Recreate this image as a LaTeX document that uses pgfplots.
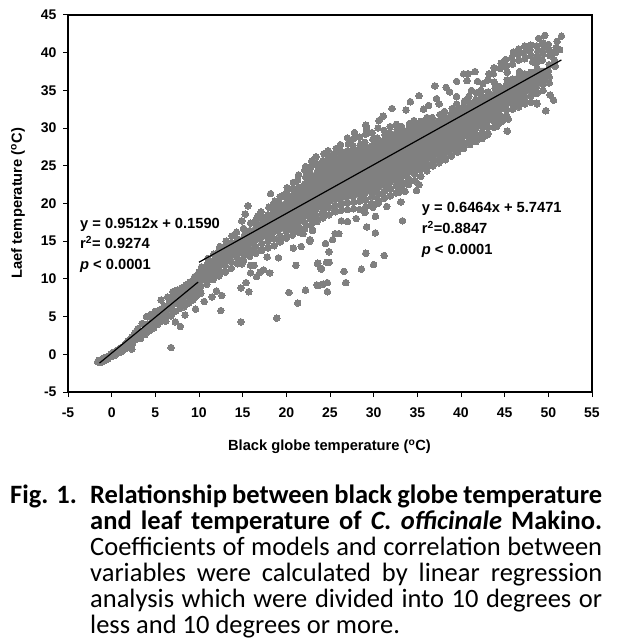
\documentclass[border=0pt]{standalone}
\usepackage{fontspec}
\setmainfont{Liberation Sans}
\newfontfamily\capfont{Carlito}
\usepackage{pgfplots}
\pgfplotsset{compat=1.18}
\definecolor{cloud}{RGB}{128,128,128}
\newcommand{\capline}[2]{\node[anchor=base west,inner sep=0pt] at (22pt,#1) {\makebox[512pt][s]{#2}};}
\begin{document}
\begin{tikzpicture}
\useasboundingbox (-68pt,-250pt) rectangle (553pt,392pt);
\begin{axis}[
    at={(0pt,0pt)},
    anchor=south west,
    scale only axis,
    width=524pt,
    height=377pt,
    xmin=-5, xmax=55,
    ymin=-5, ymax=45,
    xtick={-5,0,...,55},
    ytick={-5,0,...,45},
    tick align=outside,
    tick pos=left,
    major tick length=5pt,
    tick style={black,line width=1pt},
    axis line style={black,line width=1.1pt},
    /pgf/number format/assume math mode=true,
    tick label style={font=\bfseries\fontsize{14}{14}\selectfont},
    xticklabel style={yshift=-7pt},
    yticklabel style={xshift=-3pt},
    clip=false,
    xlabel={\textbf{Black globe temperature (\textsuperscript{o}C)}},
    ylabel={\textbf{Laef temperature (\textsuperscript{o}C)}},
    every axis x label/.style={at={(axis description cs:0.499,-0.155)},anchor=base,font=\fontsize{14.7}{14.7}\selectfont},
    every axis y label/.style={at={(axis description cs:-0.088,0.501)},anchor=base,rotate=90,font=\fontsize{14.7}{14.7}\selectfont},
]
% solid middle of the cloud, where the points run together
\addplot[fill=cloud,draw=none] coordinates {
(3,3)(5,5)(7,7.5)(9,9.5)(10,10.9)(12,13)(14,14.9)(16,16.7)(18,18.8)(20,20.6)(22,23)(24,25)(26,26.5)(28,27.5)(30,28)(32,29.5)(34,30)(36,30.8)(38,31.5)(40,32.8)(42,34)(43.5,34.8)(45,35.7)(47,37)(49,38)(50,38)
(50,37)(49,35.5)(47,34)(45,32.5)(43,30.5)(41,29)(39,27.2)(37,26)(35,24.5)(33,23)(31,22)(29,21)(27,20.5)(25,20)(23,18.5)(21,17)(19,16)(17,15)(15,13.5)(13,12)(11,10)(9,7.8)(7,6)(5,4.4)(3,2.5)
};
% dense cloud, read column by column
\addplot[only marks,mark=*,mark size=3.3pt,mark options={fill=cloud,draw=cloud,line width=0pt}] coordinates {
(-1.6,-1.0)(-1.5,-0.8)(-1.4,-1.1)(-1.2,-0.7)(-1.1,-1.0)(-0.9,-0.5)(-0.8,-0.8)(-0.5,-0.3)(-0.4,-0.6)(-0.1,0)(0,-0.3)
(0.3,0.3)(0.4,-0.1)(0.7,0.6)(0.8,0.2)(1.1,0.9)(1.2,0.4)(1.5,1.3)(1.6,0.8)(1.9,1.8)(2,1.1)(2.3,2.3)(2.4,1.5)(2.7,2.9)(2.8,2)
(3,3.4)(3.1,2.6)(3.3,2.1)(3.5,4.1)(3.6,3.1)(3.8,2.6)(4,5)(4.1,4)(4.3,3.1)(4.5,5.3)(4.6,4.4)(4.8,3.5)(5,5.7)(5.1,4.9)(5.3,4)
(5.5,5.9)(5.6,5.1)(5.7,4.4)(5.65,7.2)(6,6.4)(6.1,5.6)(6.2,4.8)(6.4,7.6)(6.6,6.8)(6.7,5.9)(6.8,5.1)(7,8.3)(7,7.5)(7.2,6.7)(7.3,5.7)
(7.5,8.5)(7.6,7.7)(7.7,6.9)(7.8,6.1)(8,8.8)(8,8)(8.1,7.2)(8.3,6.3)(8.5,9.2)(8.6,8.4)(8.7,7.6)(8.8,6.8)(9,9.6)(9.1,8.8)(9.2,8)(9.3,7.2)
(9.5,10.3)(9.6,9.5)(9.6,8.7)(9.7,7.7)(10,10.9)(10,9.9)(10.1,8.9)
(10.2,8.1)(10.2,9)(10.3,9.9)(10.2,10.8)(10.3,11.6)
(10.9,9.3)(10.9,10.1)(11,11)(10.9,11.8)(11,12.7)
(11.6,9.9)(11.6,10.7)(11.5,11.6)(11.6,12.4)(11.7,13.3)
(12.3,10.4)(12.3,11.2)(12.2,12.1)(12.3,12.9)(12.3,13.8)(12.4,14.3)
(13,10.9)(13,11.8)(13.1,12.6)(13,13.4)(13,14.3)(13.1,15)
(13.7,11.4)(13.7,12.3)(13.6,13.1)(13.7,14)(13.7,14.8)(13.8,15.7)
(14.4,12)(14.4,12.8)(14.5,13.6)(14.4,14.5)(14.4,15.3)(14.3,16.2)
(15.1,12.5)(15.1,13.3)(15,14.1)(15.1,15)(15.2,15.8)(15.1,16.7)
(15.8,13)(15.8,13.8)(15.7,14.7)(15.8,15.5)(15.8,16.4)(15.9,17.4)
(16.5,13.4)(16.5,14.2)(16.4,15.1)(16.5,16)(16.6,16.9)(16.5,17.8)(16.7,18.3)
(17.2,13.8)(17.2,14.7)(17.1,15.5)(17.2,16.4)(17.3,17.2)(17.2,18.1)(17.1,18.9)
(17.9,14.1)(17.9,15)(18,15.9)(17.9,16.8)(17.8,17.6)(17.9,18.5)(18,19.5)
(18.6,14.4)(18.6,15.3)(18.5,16.2)(18.6,17.1)(18.7,18)(18.6,18.9)(18.5,19.8)(18.7,20.3)
(19.3,14.9)(19.3,15.7)(19.2,16.6)(19.3,17.5)(19.4,18.3)(19.3,19.2)(19.2,20.1)(19.3,20.9)
(20,15.4)(20,16.3)(20.1,17.1)(20,18)(19.9,18.9)(20,19.7)(20.1,20.6)(20,21.4)(20.1,22.1)
(20.7,15.8)(20.7,16.7)(20.6,17.6)(20.7,18.4)(20.8,19.2)(20.7,20.1)(20.6,21)(20.7,21.9)(20.8,22.8)
(21.4,16.2)(21.4,17)(21.5,17.9)(21.4,18.8)(21.3,19.6)(21.4,20.5)(21.5,21.4)(21.4,22.2)(21.3,23.1)(21.4,23.8)
(22.1,16.6)(22.1,17.5)(22,18.3)(22.1,19.2)(22.2,20)(22.1,20.9)(22,21.8)(22.1,22.6)(22.2,23.5)(22.1,24.4)(22.2,24.9)
(22.8,17.1)(22.8,18)(22.9,18.8)(22.8,19.7)(22.7,20.5)(22.8,21.4)(22.9,22.2)(22.8,23.1)(22.7,24)(22.8,24.8)(22.9,25.6)
(23.5,17.6)(23.5,18.4)(23.4,19.3)(23.5,20.1)(23.6,21)(23.5,21.9)(23.4,22.7)(23.5,23.6)(23.6,24.4)(23.5,25.3)(23.4,26.2)
(24.2,18.1)(24.2,18.9)(24.3,19.8)(24.2,20.6)(24.1,21.5)(24.2,22.3)(24.3,23.2)(24.2,24)(24.1,24.9)(24.2,25.7)(24.3,26.6)
(24.9,18.5)(24.9,19.4)(24.8,20.2)(24.9,21.1)(25,21.9)(24.9,22.8)(24.8,23.7)(24.9,24.5)(25,25.4)(24.9,26.2)(24.8,27)
(25.6,18.9)(25.6,19.7)(25.7,20.6)(25.6,21.4)(25.5,22.3)(25.6,23.1)(25.7,24)(25.6,24.9)(25.5,25.7)(25.6,26.6)(25.7,27.3)
(26.3,19.1)(26.3,20)(26.2,20.9)(26.3,21.7)(26.4,22.6)(26.3,23.4)(26.2,24.3)(26.3,25.2)(26.4,26)(26.3,26.9)(26.2,27.8)
(27,19.2)(27,20.1)(27.1,21)(27,21.9)(26.9,22.7)(27,23.6)(27.1,24.4)(27,25.3)(26.9,26.1)(27,27)(27.1,27.9)(27,28.7)
(27.7,19.3)(27.7,20.2)(27.6,21)(27.7,21.9)(27.8,22.8)(27.7,23.6)(27.6,24.5)(27.7,25.3)(27.8,26.2)(27.7,27)(27.6,27.7)(27.7,28.6)(27.8,29.4)
(28.4,19.2)(28.4,20.3)(28.5,21.2)(28.4,22)(28.3,22.9)(28.4,23.8)(28.5,24.6)(28.4,25.5)(28.3,26.3)(28.4,27.2)(28.5,27.9)(28.4,28.8)
(29.1,19.6)(29.1,20.5)(29,21.4)(29.1,22.2)(29.2,23.1)(29.1,24)(29,24.8)(29.1,25.7)(29.2,26.5)(29.1,27.2)(29,28.1)(29.1,29.2)(29.2,29.9)(29.1,30.4)
(29.8,20)(29.8,20.9)(29.9,21.7)(29.8,22.6)(29.7,23.5)(29.8,24.3)(29.9,25.2)(29.8,26)(29.7,26.9)(29.8,27.6)(29.9,28.5)(29.8,29.4)
(30.5,20.3)(30.5,21.2)(30.4,22)(30.5,22.9)(30.6,23.7)(30.5,24.6)(30.4,25.5)(30.5,26.3)(30.6,27.1)(30.5,27.9)(30.4,28.7)(30.5,30)(30.6,31)
(31.2,20.7)(31.2,21.6)(31.3,22.4)(31.2,23.3)(31.1,24.1)(31.2,25)(31.3,25.8)(31.2,26.7)(31.1,27.5)(31.2,28.3)(31.3,29.1)(31.2,29.7)(31.1,31.6)
(31.9,21)(31.9,21.9)(31.8,22.7)(31.9,23.6)(32,24.4)(31.9,25.3)(31.8,26.1)(31.9,26.9)(32,27.8)(31.9,28.6)(31.8,29.4)(31.9,30.2)(32.1,32.6)
(32.6,21.4)(32.6,22.3)(32.7,23.1)(32.6,24)(32.5,24.8)(32.6,25.7)(32.7,26.5)(32.6,27.3)(32.5,28.2)(32.6,29)(32.7,29.8)(32.6,30.5)
(33.3,21.9)(33.3,22.8)(33.2,23.6)(33.3,24.4)(33.4,25.3)(33.3,26.1)(33.2,27)(33.3,27.8)(33.4,28.6)(33.3,29.4)(33.2,30.2)(33.7,32.4)
(34,22.5)(34,23.3)(34.1,24.2)(34,25)(33.9,25.9)(34,26.7)(34.1,27.5)(34,28.3)(33.9,29.1)(34,29.9)(34.1,30.6)(34.2,33.5)
(34.7,23)(34.7,23.9)(34.6,24.7)(34.7,25.6)(34.8,26.4)(34.7,27.2)(34.6,28)(34.7,28.8)(34.8,29.6)(34.7,30.4)(34.6,31)
(35.4,23.6)(35.4,24.5)(35.5,25.3)(35.4,26.2)(35.3,27)(35.4,27.8)(35.5,28.6)(35.4,29.4)(35.3,30.2)(35.4,30.9)(35.2,34.3)(35.7,32.5)
(36.1,24.3)(36.1,25.1)(36,26)(36.1,26.8)(36.2,27.6)(36.1,28.4)(36,29.2)(36.1,30)(36.2,30.8)(36.1,31.4)(36.3,33)
(36.8,25)(36.8,25.8)(36.9,26.6)(36.8,27.4)(36.7,28.2)(36.8,29)(36.9,29.8)(36.8,30.6)(36.7,31.4)(37.2,33.9)(37,35.6)
(37.5,25.4)(37.5,26.2)(37.4,27)(37.5,27.8)(37.6,28.6)(37.5,29.4)(37.4,30.2)(37.5,31)(37.6,31.8)(37.5,33.2)
(38.2,25.8)(38.2,26.6)(38.3,27.4)(38.2,28.2)(38.1,29)(38.2,29.8)(38.3,30.6)(38.2,31.4)(38.1,32.2)(38.3,35.4)
(38.9,26.3)(38.9,27.1)(38.8,27.9)(38.9,28.7)(39,29.5)(38.9,30.3)(38.8,31.1)(38.9,31.9)(39,32.6)(38.7,34.8)
(39.6,26.8)(39.6,27.6)(39.7,28.4)(39.6,29.2)(39.5,30)(39.6,30.8)(39.7,31.6)(39.6,32.4)(39.5,33.2)(39.5,34.2)(39.5,36.2)
(40.3,27.3)(40.3,28.1)(40.2,28.9)(40.3,29.7)(40.4,30.5)(40.3,31.3)(40.2,32.1)(40.3,32.9)(40.4,33.6)(40.3,37.2)(40.7,36.3)(40.8,37.2)
(41,27.8)(41,28.6)(41.1,29.4)(41,30.2)(40.9,31)(41,31.8)(41.1,32.6)(41,33.4)(40.9,34.2)(41.2,35)(41.6,37.5)
(41.7,28.2)(41.7,29)(41.6,29.8)(41.7,30.6)(41.8,31.4)(41.7,32.2)(41.6,33)(41.7,33.8)(41.8,34.7)(41.9,36.2)
(42.4,28.6)(42.4,29.4)(42.5,30.2)(42.4,31)(42.3,31.8)(42.4,32.6)(42.5,33.4)(42.4,34.2)(42.3,35)(42.5,35.9)
(43.1,29.3)(43.1,30.1)(43,30.9)(43.1,31.7)(43.2,32.5)(43.1,33.3)(43,34)(43.1,34.8)(43.1,36.4)(43.2,37.2)
(43.8,30.1)(43.8,30.9)(43.9,31.7)(43.8,32.5)(43.7,33.3)(43.8,34.1)(43.9,35.3)(43.8,36.1)(43.7,37.2)(43.8,38)
(44.5,30.8)(44.5,31.6)(44.4,32.4)(44.5,33.2)(44.6,34)(44.5,34.8)(44.4,35.5)(44.5,37.9)(44.6,38.6)
(45.2,31.7)(45.2,32.5)(45.3,33.3)(45.2,34.1)(45.1,34.9)(45.2,35.7)(45.3,36.4)(45.3,37.4)(45.2,38.2)(45.1,39.1)
(45.9,32.5)(45.9,33.3)(45.8,34.1)(45.9,34.9)(46,35.7)(45.9,36.5)(45.9,38.5)(45.8,39.3)(46,40.1)
(46.6,32.8)(46.6,33.6)(46.7,34.4)(46.6,35.2)(46.5,36)(46.6,36.8)(46.7,37.5)(46.6,39)(46.5,39.8)(46.6,40.5)
(47.3,33.2)(47.3,34)(47.2,34.8)(47.3,35.6)(47.4,36.4)(47.3,37.2)(47.3,39.2)(47.2,40)(47.3,40.9)
(48,33.4)(48,34.2)(48.1,35)(48,35.8)(47.9,36.6)(48,37.4)(48.2,38.8)(48,39.6)(47.9,40.4)(48,41)
(48.7,33.3)(48.7,34.6)(48.6,35.4)(48.7,36.2)(48.8,37)(48.7,37.8)(48.6,38.6)(48.7,39.4)(48.8,40.2)(48.7,40.9)(48.9,41.9)
(49.4,35)(49.4,35.8)(49.5,36.6)(49.4,37.4)(49.3,39)(49.4,39.8)(49.5,40.6)(49.4,41.3)(49.6,42.3)
(50.1,36)(50.1,36.8)(50,37.6)(50.1,38.4)(50.2,39.6)(50.1,40.4)(50,41.1)
(50.8,38.2)(50.7,39)(50.8,40)(50.9,40.7)(51,41.5)(51.3,40.4)(51.5,42.2)
% scattered points
(2.3,0.7)(6.8,0.9)(7.86,3.7)(8.4,5.2)(9.6,6)(7.3,4.3)(6.2,4.4)(10.6,7)(11.5,7.6)(12,8.4)(12.6,7.8)(12.5,5.8)
(14.8,4.3)(18.9,4.8)(15.7,8.3)(14.8,8.8)(15.4,9.5)(16.6,10.3)(15.9,10.8)(17.4,11.2)(18.1,10.8)(17,10.9)
(14.9,12)(15.9,11.8)(16.3,11.8)(17.8,12.9)(19.1,12.8)(21.1,11.8)(20.3,8.2)(21.3,6.8)(22.2,8.5)(23.6,9.1)
(20.8,14.1)(21.7,14.3)(23.6,12)(21.9,16)(22.7,15)(23,16.4)(24,11.4)(23.6,12.1)(24,11.3)(24.6,12.2)(24.9,12.2)
(24.9,13.6)(24.5,14.7)(25.3,15.2)(23.5,9.2)(24.2,9.3)(24.7,9.5)(24.7,8.3)(26.8,9.5)(26.6,11)(28.6,11.3)(30,11.9)
(31.2,13.1)(29.1,13.4)(30.2,16.1)(29.2,16.9)(33.3,17.7)(33.1,20.2)(30.2,18.3)(28,18)(29,18.8)(26.3,17.7)(27,17.6)
(25.6,16)(26,16)(22.7,15.2)(23,16.5)(34.9,21.7)(35.2,22.5)(32.9,21.5)(33.6,21.6)(31.5,19.6)(29.9,19.5)(30.5,20)
(15.6,19.7)(15.3,18.6)(14.9,17.7)(18.2,21.3)(19.7,21.1)
(49.7,32.3)(50.6,33.7)(50.2,34.4)(48.7,33.2)(45.3,29.6)(45.4,31.2)(44.7,30.9)(44.1,30.2)(43,29.1)
};
\node[anchor=base west,inner sep=0pt,font=\bfseries\fontsize{14.7}{14.7}\selectfont] at (axis cs:-3.63,16.75) {y = 0.9512x + 0.1590};
\node[anchor=base west,inner sep=0pt,font=\bfseries\fontsize{14.7}{14.7}\selectfont] at (axis cs:-3.63,13.97) {r\textsuperscript{2}= 0.9274};
\node[anchor=base west,inner sep=0pt,font=\bfseries\fontsize{14.7}{14.7}\selectfont] at (axis cs:-3.63,11.2) {\textit{p} < 0.0001};
\node[anchor=base west,inner sep=0pt,font=\bfseries\fontsize{14.7}{14.7}\selectfont] at (axis cs:35.5,18.83) {y = 0.6464x + 5.7471};
\node[anchor=base west,inner sep=0pt,font=\bfseries\fontsize{14.7}{14.7}\selectfont] at (axis cs:35.5,16.05) {r\textsuperscript{2}=0.8847};
\node[anchor=base west,inner sep=0pt,font=\bfseries\fontsize{14.7}{14.7}\selectfont] at (axis cs:35.5,13.3) {\textit{p} < 0.0001};
\end{axis}
% regression lines in a second axis, so that they lie over the marks
\begin{axis}[
    at={(0pt,0pt)},
    anchor=south west,
    scale only axis,
    width=524pt,
    height=377pt,
    xmin=-5, xmax=55,
    ymin=-5, ymax=45,
    hide axis,
]
\addplot[black,line width=1.2pt] coordinates {(-1.4,-1.17)(9.9,9.58)};
\addplot[black,line width=1.2pt] coordinates {(10,12.21)(51.5,39.04)};
\end{axis}
\capfont\fontsize{26.5}{26.5}\selectfont
\node[anchor=base west,inner sep=0pt] at (-58pt,-111pt) {\bfseries Fig. 1.};
\capline{-111pt}{\bfseries Relationship between black globe temperature}
\capline{-137pt}{\bfseries and leaf temperature of \textit{C. officinale} Makino.}
\capline{-163pt}{Coefficients of models and correlation between}
\capline{-189pt}{variables were calculated by linear regression}
\capline{-215pt}{analysis which were divided into 10 degrees or}
\node[anchor=base west,inner sep=0pt] at (22pt,-241pt) {less and 10 degrees or more.};
\end{tikzpicture}
\end{document}
